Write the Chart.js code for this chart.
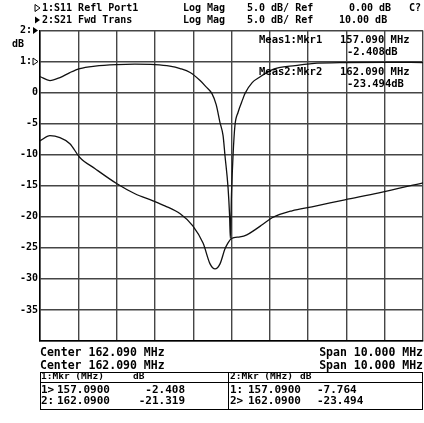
<!DOCTYPE html>
<html>
<head>
<meta charset="utf-8">
<script src="https://cdn.jsdelivr.net/npm/chart.js@4.4.1/dist/chart.umd.min.js"></script>
<style>
  html, body { margin: 0; padding: 0; background: #fff; }
</style>
</head>
<body>
<canvas id="nwa" width="424" height="423"></canvas>
<script>
// sweep
const startMHz = 157.09;
const stopMHz = 167.09;
const xGridMHz = [157.09, 158.09, 159.09, 160.09, 161.09, 162.09, 163.09, 164.09, 165.09, 166.09, 167.09];

// trace 1: S11 Refl Port1 (ref 0 dB, one div below top)
const s11Freq = [157.09, 157.35, 157.61, 157.87, 158.13, 158.53, 159.10, 159.57, 160.09, 160.48, 160.75, 161.01, 161.27, 161.42, 161.58, 161.69, 161.79, 161.87, 161.92, 162.00, 162.04, 162.06, 162.09, 162.13, 162.18, 162.26, 162.39, 162.44, 162.63, 162.81, 163.10, 163.33, 163.75, 164.19, 165.05, 166.10, 167.09];
const s11Db = [-2.408, -3.06, -2.58, -1.77, -1.13, -0.73, -0.48, -0.40, -0.48, -0.73, -1.13, -1.77, -3.06, -4.03, -5.16, -6.94, -9.84, -11.94, -15.16, -20.3, -24.8, -28.5, -21.319, -15.16, -10.3, -8.2, -5.97, -5.16, -3.39, -2.58, -1.45, -0.97, -0.65, -0.32, -0.16, -0.13, -0.16];

// trace 2: S21 Fwd Trans (ref 10 dB at top)
const s21Freq = [157.09, 157.35, 157.61, 157.87, 158.13, 158.53, 159.10, 159.57, 160.04, 160.35, 160.75, 161.08, 161.35, 161.53, 161.66, 161.79, 161.92, 162.00, 162.09, 162.31, 162.49, 162.70, 162.89, 163.15, 163.67, 164.19, 165.05, 165.94, 167.09];
const s21Db = [-7.764, -6.94, -7.26, -8.23, -10.44, -12.26, -14.68, -16.29, -17.42, -18.23, -19.52, -21.45, -24.27, -27.58, -28.39, -27.58, -25.16, -24.19, -23.494, -23.23, -22.9, -22.1, -21.29, -20.16, -19.03, -18.39, -17.26, -16.13, -14.52];

// marker table
const mkrLeft = [['1>', '157.0900', '-2.408'], ['2:', '162.0900', '-21.319']];
const mkrRight = [['1:', '157.0900', '-7.764'], ['2>', '162.0900', '-23.494']];

const MONO = '"DejaVu Sans Mono", "Liberation Mono", monospace';
const gridColor = '#454545';

const overlay = {
  id: 'overlay',
  afterDraw(chart) {
    const c = chart.ctx;
    c.save();
    c.fillStyle = '#000';
    c.strokeStyle = '#000';
    c.textBaseline = 'middle';
    const txt = (s, x, y, size, align) => {
      c.font = 'bold ' + size + 'px ' + MONO;
      c.textAlign = align || 'left';
      c.fillText(s, x, y);
    };
    const tri = (x, y, filled) => {
      c.beginPath();
      c.moveTo(x, y - 3.5);
      c.lineTo(x + 5, y);
      c.lineTo(x, y + 3.5);
      c.closePath();
      c.lineWidth = 1;
      if (filled) c.fill(); else c.stroke();
    };

    // header
    tri(35, 8, false);
    txt('1:S11 Refl Port1', 42, 8, 10);
    txt('Log Mag', 183, 8, 10);
    txt('5.0 dB/ Ref', 247, 8, 10);
    txt('0.00 dB', 349, 8, 10);
    txt('C?', 409, 8, 10);
    tri(35, 20, true);
    txt('2:S21 Fwd Trans', 42, 20, 10);
    txt('Log Mag', 183, 20, 10);
    txt('5.0 dB/ Ref', 247, 20, 10);
    txt('10.00 dB', 339, 20, 10);

    // reference markers on the axis
    const y = chart.scales.y;
    tri(33, y.getPixelForValue(10), true);
    tri(33, y.getPixelForValue(5), false);
    txt('dB', 12, 44, 10);

    // marker readouts
    txt('Meas1:Mkr1', 259, 40, 10.5);
    txt('157.090 MHz', 340, 40, 10.5);
    txt('-2.408dB', 347, 52, 10.5);
    txt('Meas2:Mkr2', 259, 72, 10.5);
    txt('162.090 MHz', 340, 72, 10.5);
    txt('-23.494dB', 347, 84, 10.5);

    // footer
    txt('Center 162.090 MHz', 40, 353, 11.5);
    txt('Span 10.000 MHz', 423, 353, 11.5, 'right');
    txt('Center 162.090 MHz', 40, 366, 11.5);
    txt('Span 10.000 MHz', 423, 366, 11.5, 'right');

    // table
    c.lineWidth = 1;
    c.strokeRect(40.5, 372.5, 382, 37);
    c.beginPath();
    c.moveTo(40, 382.5); c.lineTo(423, 382.5);
    c.moveTo(228.5, 372); c.lineTo(228.5, 410);
    c.stroke();
    txt('1:Mkr (MHz)', 41, 377, 9.5);
    txt('dB', 133, 377, 9.5);
    txt('2:Mkr (MHz)', 230, 377, 9.5);
    txt('dB', 300, 377, 9.5);
    const rowY = [390, 401];
    mkrLeft.forEach((r, i) => {
      txt(r[0], 41, rowY[i], 11);
      txt(r[1], 57, rowY[i], 11);
      txt(r[2], 185, rowY[i], 11, 'right');
    });
    mkrRight.forEach((r, i) => {
      txt(r[0], 230, rowY[i], 11);
      txt(r[1], 248, rowY[i], 11);
      txt(r[2], 317, rowY[i], 11);
    });
    c.restore();
  }
};

const ctx = document.getElementById('nwa').getContext('2d');
new Chart(ctx, {
  type: 'line',
  data: {
    datasets: [
      {
        label: 'S11',
        data: s11Freq.map((f, i) => ({ x: f, y: s11Db[i] })),
        yAxisID: 'y1',
        borderColor: '#111',
        borderWidth: 1.3,
        pointRadius: 0,
        cubicInterpolationMode: 'monotone'
      },
      {
        label: 'S21',
        data: s21Freq.map((f, i) => ({ x: f, y: s21Db[i] })),
        yAxisID: 'y',
        borderColor: '#111',
        borderWidth: 1.3,
        pointRadius: 0,
        cubicInterpolationMode: 'monotone'
      }
    ]
  },
  options: {
    responsive: false,
    animation: false,
    layout: { padding: { left: 0, top: 30.5, right: 1, bottom: 82 } },
    plugins: { legend: { display: false }, tooltip: { enabled: false } },
    scales: {
      x: {
        type: 'linear',
        min: startMHz,
        max: stopMHz,
        afterBuildTicks: s => { s.ticks = xGridMHz.map(v => ({ value: v })); },
        afterFit: s => { s.height = 0; },
        ticks: { display: false },
        grid: { color: gridColor, lineWidth: 1.4, drawTicks: false },
        border: { color: '#000', width: 1.5 }
      },
      y: {
        min: -40,
        max: 10,
        afterFit: s => { s.width = 40; },
        ticks: {
          stepSize: 5,
          padding: 2,
          color: '#000',
          font: { family: MONO, size: 10, weight: 'bold' },
          callback: v => v === 10 ? '2: ' : v === 5 ? '1: ' : v === -40 ? '' : String(v)
        },
        grid: { color: gridColor, lineWidth: 1.4, drawTicks: false },
        border: { color: '#000', width: 1.5 }
      },
      y1: { display: false, min: -45, max: 5 }
    }
  },
  plugins: [overlay]
});
</script>
</body>
</html>
